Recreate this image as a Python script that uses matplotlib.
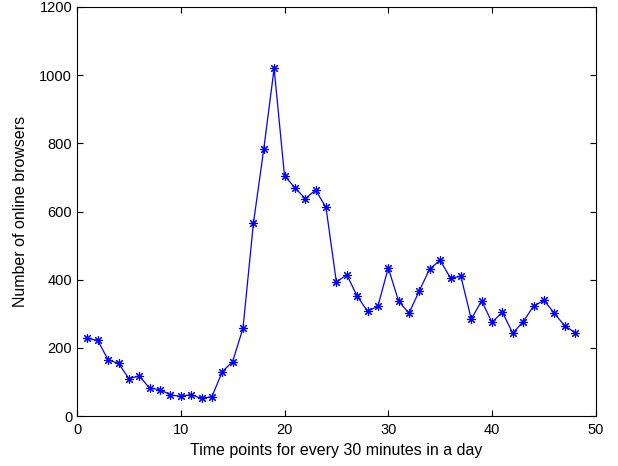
import numpy as np
import matplotlib
matplotlib.use('Agg')
import matplotlib.pyplot as plt

plt.rcParams['font.family'] = ['Liberation Sans', 'DejaVu Sans']

# half-hour time points and browser counts
time_points = list(range(1, 49))
browsers = [228, 222, 165, 155, 110, 118, 82, 78, 62, 58,
            63, 52, 57, 130, 160, 258, 565, 783, 1020, 705,
            670, 638, 663, 612, 393, 415, 352, 308, 322, 435,
            337, 302, 368, 432, 457, 405, 410, 285, 338, 275,
            305, 243, 277, 322, 340, 302, 265, 245]

fig = plt.figure(figsize=(6.18, 4.66), dpi=100)
ax = fig.add_axes([0.1246, 0.107, 0.8394, 0.878])

ax.plot(time_points, browsers, color='blue', lw=0.9,
        marker=(8, 2, 0), markersize=6.5, markeredgewidth=0.8)

ax.set_xlim(0, 50)
ax.set_ylim(0, 1200)
ax.set_xticks([0, 10, 20, 30, 40, 50])
ax.set_yticks(range(0, 1201, 200))
ax.tick_params(direction='in', top=True, right=True, labelsize=10.5, length=4)
ax.tick_params(axis='x', pad=5)
for s in ax.spines.values():
    s.set_linewidth(0.8)

ax.set_xlabel('Time points for every 30 minutes in a day', fontsize=11.5, labelpad=4)
ax.set_ylabel('Number of online browsers', fontsize=11.5, labelpad=8)

fig.savefig('out.png', dpi=100)
